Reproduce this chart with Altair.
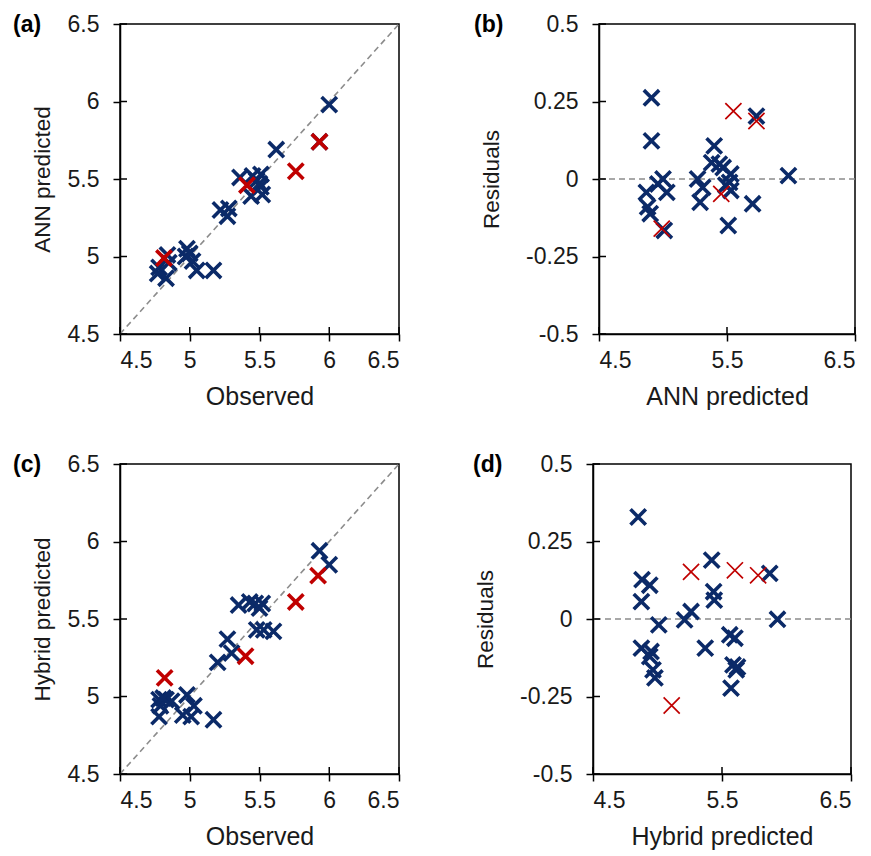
import altair as alt
import pandas as pd

# ---------------- data ----------------
# (a) Observed vs ANN predicted
a_blue_obs  = [6.00, 5.62, 5.93, 5.36, 5.51, 5.48, 5.51, 5.44, 5.52, 5.22, 5.28, 5.27,
               4.78, 4.77, 4.83, 4.98, 4.97, 5.02, 5.05, 5.17, 4.85, 5.00, 5.45, 4.84, 5.50]
a_blue_pred = [5.98, 5.69, 5.74, 5.51, 5.53, 5.49, 5.45, 5.39, 5.40, 5.30, 5.31, 5.26,
               4.93, 4.89, 4.86, 5.05, 5.00, 4.97, 4.91, 4.91, 4.96, 5.02, 5.52, 5.01, 5.47]
a_red_obs   = [4.815, 5.41, 5.76, 5.93]
a_red_pred  = [4.99, 5.46, 5.55, 5.74]

# (b) ANN predicted vs residuals
b_blue_pred = [4.91, 4.91, 5.00, 4.96, 4.87, 5.03, 4.88, 4.90, 5.01, 5.27, 5.31, 5.29,
               5.40, 5.38, 5.44, 5.47, 5.53, 5.52, 5.49, 5.53, 5.51, 5.70, 5.73, 5.98]
b_blue_res  = [0.262, 0.123, 0.00, -0.016, -0.043, -0.043, -0.09, -0.112, -0.166, 0.00, -0.027, -0.075,
               0.107, 0.053, 0.048, 0.037, 0.016, -0.011, -0.02, -0.037, -0.15, -0.08, 0.203, 0.011]
b_red_pred  = [4.99, 5.455, 5.55, 5.73]
b_red_res   = [-0.16, -0.048, 0.219, 0.187]

# (c) Observed vs Hybrid predicted
c_blue_obs  = [5.93, 6.00, 5.35, 5.43, 5.47, 5.52, 5.50, 5.48, 5.53, 5.60, 5.27, 5.30,
               5.20, 4.78, 4.83, 4.79, 4.78, 4.87, 4.98, 5.03, 4.95, 5.01, 5.17, 4.81]
c_blue_pred = [5.94, 5.85, 5.59, 5.61, 5.60, 5.60, 5.57, 5.43, 5.43, 5.42, 5.37, 5.28,
               5.22, 4.98, 4.98, 4.94, 4.87, 4.97, 5.01, 4.94, 4.88, 4.87, 4.85, 4.99]
c_red_obs   = [4.82, 5.40, 5.76, 5.92]
c_red_pred  = [5.12, 5.26, 5.61, 5.78]

# (d) Hybrid predicted vs residuals
d_blue_pred = [4.85, 4.88, 4.94, 4.875, 5.01, 4.875, 4.95, 4.94, 4.965, 4.98, 5.21, 5.26,
               5.42, 5.435, 5.44, 5.37, 5.56, 5.60, 5.585, 5.61, 5.57, 5.87, 5.93, 5.62]
d_blue_res  = [0.329, 0.127, 0.109, 0.056, -0.019, -0.094, -0.105, -0.121, -0.164, -0.19, -0.003, 0.024,
               0.19, 0.088, 0.061, -0.094, -0.051, -0.062, -0.148, -0.164, -0.223, 0.147, -0.001, -0.155]
d_red_pred  = [5.26, 5.60, 5.78, 5.11]
d_red_res   = [0.152, 0.157, 0.141, -0.279]

ticks_obs = [4.5, 5, 5.5, 6, 6.5]
ticks_pred = [4.5, 5.5, 6.5]
ticks_res = [-0.5, -0.25, 0, 0.25, 0.5]
diag = [4.5, 6.5]
zero = [0]

BLUE = "#0b2a68"
RED = "#c00000"
FONT = "Liberation Sans"
XSHAPE = "M-1,-1L1,1M-1,1L1,-1"


def panel(bx, by, rx, ry, xdom, ydom, xticks, yticks, xtitle, ytitle,
          letter, letter_dx, width, height, red_thin, ref, ytitle_pad):
    xs = alt.Scale(domain=xdom, nice=False, zero=False)
    ys = alt.Scale(domain=ydom, nice=False, zero=False)
    xaxis = alt.Axis(values=xticks, labelExpr="'' + datum.value", title=xtitle,
                     grid=False, tickSize=7, labelPadding=8, titlePadding=12,
                     titleFontSize=25)
    yaxis = alt.Axis(values=yticks, labelExpr="'' + datum.value", title=ytitle,
                     grid=False, tickSize=7, labelPadding=14, titlePadding=ytitle_pad,
                     titleFontSize=22.5)
    X = alt.X("x:Q", scale=xs, axis=xaxis)
    Y = alt.Y("y:Q", scale=ys, axis=yaxis)

    layers = []
    if ref == "diag":
        layers.append(
            alt.Chart(pd.DataFrame({"x": diag, "y": diag}))
            .mark_line(color="#8c8c8c", strokeDash=[6, 4], strokeWidth=1.6)
            .encode(x=X, y=Y)
        )
    else:
        layers.append(
            alt.Chart(pd.DataFrame({"y": zero}))
            .mark_rule(color="#8c8c8c", strokeDash=[6, 4], strokeWidth=1.6)
            .encode(y=Y)
        )
    # inner halves of the crossing tick marks
    layers.append(
        alt.Chart(pd.DataFrame({"x": xticks}))
        .mark_rule(color="black", strokeWidth=1.5)
        .encode(x=X, y=alt.value(height), y2=alt.value(height - 7))
    )
    layers.append(
        alt.Chart(pd.DataFrame({"y": yticks}))
        .mark_rule(color="black", strokeWidth=1.5)
        .encode(y=Y, x=alt.value(0), x2=alt.value(7))
    )
    layers.append(
        alt.Chart(pd.DataFrame({"x": bx, "y": by}))
        .mark_point(shape=XSHAPE, size=235, filled=False, stroke=BLUE,
                    strokeWidth=3.6, opacity=1)
        .encode(x=X, y=Y)
    )
    layers.append(
        alt.Chart(pd.DataFrame({"x": rx, "y": ry}))
        .mark_point(shape=XSHAPE, size=235 if not red_thin else 260, filled=False,
                    stroke=RED, strokeWidth=1.7 if red_thin else 3.6, opacity=1)
        .encode(x=X, y=Y)
    )
    layers.append(
        alt.Chart(pd.DataFrame({"t": [letter]}))
        .mark_text(font=FONT, fontSize=23, fontWeight="bold", align="left",
                   baseline="middle", color="black")
        .encode(text="t:N", x=alt.value(letter_dx), y=alt.value(1))
    )
    return alt.layer(*layers).properties(width=width, height=height)


pa = panel(a_blue_obs, a_blue_pred, a_red_obs, a_red_pred, [4.5, 6.5], [4.5, 6.5],
           ticks_obs, ticks_obs, "Observed", "ANN predicted", "(a)", -107, 279, 310,
           False, "diag", 13)
pb = panel(b_blue_pred, b_blue_res, b_red_pred, b_red_res, [4.5, 6.5], [-0.5, 0.5],
           ticks_pred, ticks_res, "ANN predicted", "Residuals", "(b)", -125, 256, 310,
           True, "zero", 22)
pc = panel(c_blue_obs, c_blue_pred, c_red_obs, c_red_pred, [4.5, 6.5], [4.5, 6.5],
           ticks_obs, ticks_obs, "Observed", "Hybrid predicted", "(c)", -107, 279, 310,
           False, "diag", 13)
pd_ = panel(d_blue_pred, d_blue_res, d_red_pred, d_red_res, [4.5, 6.5], [-0.5, 0.5],
            ticks_pred, ticks_res, "Hybrid predicted", "Residuals", "(d)", -120, 258, 310,
            True, "zero", 22)

row1 = alt.hconcat(pa, pb, spacing=70)
row2 = alt.hconcat(pc, pd_, spacing=69)

chart = (
    alt.vconcat(row1, row2, spacing=42)
    .properties(padding={"left": 4, "top": 4, "right": 4, "bottom": 4}, background="white")
    .configure_view(stroke="black", strokeWidth=1.5)
    .configure_axis(
        labelFont=FONT, titleFont=FONT, labelFontSize=23, labelColor="#1a1a1a",
        titleColor="#1a1a1a", titleFontWeight="normal",
        domainColor="black", domainWidth=1.5, tickColor="black", tickWidth=1.5,
    )
)

chart.save("out.html", embed_options={"renderer": "svg", "actions": False})
